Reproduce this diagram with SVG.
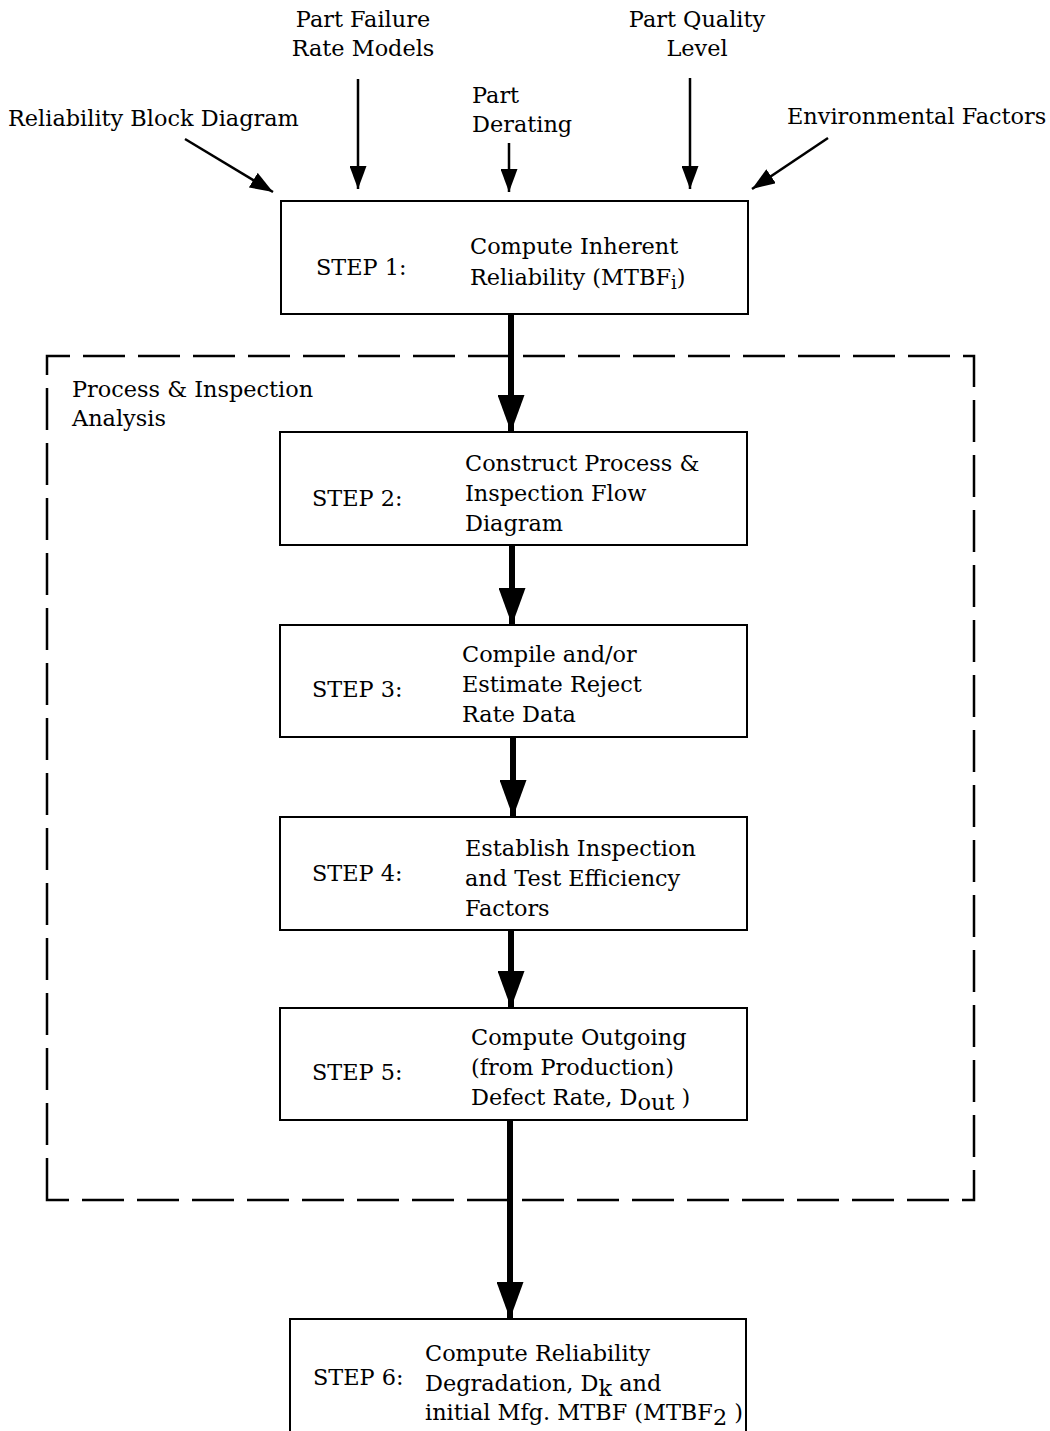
<svg xmlns="http://www.w3.org/2000/svg" width="1050" height="1431" viewBox="0 0 1050 1431">
<style>
text{font-family:"DejaVu Serif","Liberation Serif",serif;font-size:22.4px;fill:#000}
.box{fill:#fff;stroke:#000;stroke-width:2}
.thin{stroke:#000;stroke-width:2.5;fill:none}
.thick{stroke:#000;stroke-width:6;fill:none}
.dash{stroke:#000;stroke-width:2.5;fill:none;stroke-dasharray:42 13}
.sub{font-size:18px}
</style>
<defs>
<marker id="ah" markerUnits="userSpaceOnUse" viewBox="0 0 23 17" refX="23" refY="8.5" markerWidth="23" markerHeight="17" orient="auto"><path d="M0,0 L23,8.5 L0,17 z" fill="#000"/></marker>
<marker id="ahb" markerUnits="userSpaceOnUse" viewBox="0 0 37 27" refX="37" refY="13.5" markerWidth="37" markerHeight="27" orient="auto"><path d="M0,0 L37,13.5 L0,27 z" fill="#000"/></marker>
</defs>
<g id="group-process">
<path class="dash" d="M47,1200 L47,356 L974,356 L974,1200 Z"/>
<text x="72" y="397">Process &amp; Inspection</text>
<text x="72" y="426">Analysis</text>
</g>
<g id="inputs">
<g id="in-rbd"><text x="8" y="126">Reliability Block Diagram</text></g>
<g id="in-pfrm"><text x="363" y="27" text-anchor="middle">Part Failure</text><text x="363" y="56" text-anchor="middle">Rate Models</text></g>
<g id="in-pd"><text x="472" y="103">Part</text><text x="472" y="132">Derating</text></g>
<g id="in-pql"><text x="697" y="27" text-anchor="middle">Part Quality</text><text x="697" y="56" text-anchor="middle">Level</text></g>
<g id="in-env"><text x="787" y="124">Environmental Factors</text></g>
</g>
<g id="connectors">
<line class="thin" x1="185" y1="139" x2="273" y2="192" marker-end="url(#ah)"/>
<line class="thin" x1="358" y1="79" x2="358" y2="189" marker-end="url(#ah)"/>
<line class="thin" x1="509" y1="143" x2="509" y2="192" marker-end="url(#ah)"/>
<line class="thin" x1="690" y1="78" x2="690" y2="189" marker-end="url(#ah)"/>
<line class="thin" x1="828" y1="138" x2="752" y2="189" marker-end="url(#ah)"/>
<line class="thick" x1="511" y1="314" x2="511" y2="432" marker-end="url(#ahb)"/>
<line class="thick" x1="512" y1="545" x2="512" y2="625" marker-end="url(#ahb)"/>
<line class="thick" x1="513" y1="737" x2="513" y2="817" marker-end="url(#ahb)"/>
<line class="thick" x1="511" y1="930" x2="511" y2="1008" marker-end="url(#ahb)"/>
<line class="thick" x1="510" y1="1120" x2="510" y2="1319" marker-end="url(#ahb)"/>
</g>
<g id="step1">
<rect class="box" x="281" y="201" width="467" height="113"/>
<text x="316" y="275">STEP 1:</text>
<text x="470" y="254">Compute Inherent</text>
<text x="470" y="285">Reliability (MTBF<tspan class="sub" dy="4">i</tspan><tspan dy="-4">)</tspan></text>
</g>
<g id="step2">
<rect class="box" x="280" y="432" width="467" height="113"/>
<text x="312" y="506">STEP 2:</text>
<text x="465" y="471">Construct Process &amp;</text>
<text x="465" y="501">Inspection Flow</text>
<text x="465" y="531">Diagram</text>
</g>
<g id="step3">
<rect class="box" x="280" y="625" width="467" height="112"/>
<text x="312" y="697">STEP 3:</text>
<text x="462" y="662">Compile and/or</text>
<text x="462" y="692">Estimate Reject</text>
<text x="462" y="722">Rate Data</text>
</g>
<g id="step4">
<rect class="box" x="280" y="817" width="467" height="113"/>
<text x="312" y="881">STEP 4:</text>
<text x="465" y="856">Establish Inspection</text>
<text x="465" y="886">and Test Efficiency</text>
<text x="465" y="916">Factors</text>
</g>
<g id="step5">
<rect class="box" x="280" y="1008" width="467" height="112"/>
<text x="312" y="1080">STEP 5:</text>
<text x="471" y="1045">Compute Outgoing</text>
<text x="471" y="1075">(from Production)</text>
<text x="471" y="1105">Defect Rate, D<tspan dy="5">out</tspan><tspan dy="-5"> )</tspan></text>
</g>
<g id="step6">
<rect class="box" x="290" y="1319" width="456" height="130"/>
<text x="313" y="1385">STEP 6:</text>
<text x="425" y="1361">Compute Reliability</text>
<text x="425" y="1391">Degradation, D<tspan dy="5">k</tspan><tspan dy="-5"> and</tspan></text>
<text x="425" y="1420">initial Mfg. MTBF (MTBF<tspan dy="5">2</tspan><tspan dy="-5"> )</tspan></text>
</g>
</svg>
